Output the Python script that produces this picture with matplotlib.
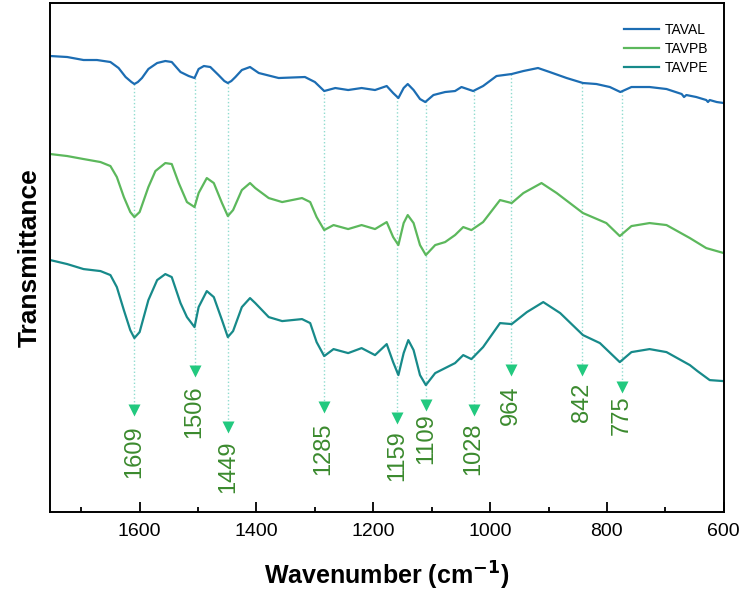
import numpy as np
import matplotlib.pyplot as plt
from matplotlib.ticker import MultipleLocator

plt.rcParams['font.family'] = ['Liberation Sans', 'DejaVu Sans']

# FTIR traces, wavenumber (cm-1) and transmittance (a.u., offset stacked)
wn_al = [1753, 1724, 1696, 1673, 1650, 1636, 1624, 1614, 1609, 1603, 1596, 1585, 1570, 1556,
         1545, 1530, 1516, 1506, 1499, 1490, 1479, 1465, 1455, 1449, 1443, 1436, 1425, 1411,
         1396, 1362, 1317, 1300, 1284, 1265, 1243, 1220, 1197, 1177, 1166, 1157, 1148,
         1141, 1131, 1120, 1111, 1097, 1077, 1060, 1049, 1029, 1012, 989, 963, 943,
         918, 898, 869, 841, 818, 795, 777, 758, 727, 698, 672, 668, 664, 647, 630,
         627, 624, 612, 600]
t_al = [456, 455, 452, 452, 450, 444, 435, 430, 428, 430, 434, 443, 449, 451,
        450, 440, 436, 434, 443, 446, 445, 437, 431, 429, 431, 435, 442, 445,
        439, 434, 435, 430, 421, 424, 422, 424, 422, 426, 419, 414, 424,
        428, 422, 413, 410, 417, 420, 421, 425, 421, 426, 436, 438, 441,
        444, 440, 434, 429, 428, 425, 420, 425, 425, 423, 418, 415, 417, 415, 412,
        410, 412, 410, 409]

wn_pb = [1753, 1724, 1696, 1667, 1650, 1639, 1627, 1616, 1609, 1600, 1585, 1573, 1556,
         1545, 1533, 1519, 1506, 1499, 1485, 1473, 1459, 1449, 1440, 1425, 1411, 1402,
         1379, 1356, 1322, 1308, 1297, 1284, 1268, 1243, 1220, 1197, 1177, 1166, 1157,
         1148, 1141, 1131, 1120, 1110, 1094, 1077, 1060, 1046, 1032, 1012, 983, 963,
         943, 912, 886, 841, 801, 778, 758, 727, 698, 658, 630, 600]
t_pb = [358, 356, 353, 350, 346, 335, 315, 300, 295, 300, 325, 341, 349,
        348, 329, 310, 305, 319, 334, 329, 309, 296, 302, 322, 329, 324,
        314, 310, 314, 310, 295, 282, 287, 283, 287, 283, 290, 275, 267,
        289, 297, 289, 267, 257, 267, 270, 277, 285, 282, 290, 312, 309,
        319, 329, 319, 299, 289, 276, 286, 289, 287, 274, 264, 259]

wn_pe = [1753, 1724, 1696, 1667, 1650, 1639, 1627, 1616, 1609, 1600, 1585, 1570, 1556,
         1545, 1530, 1519, 1506, 1499, 1485, 1473, 1459, 1449, 1440, 1425, 1411, 1402,
         1379, 1356, 1322, 1308, 1297, 1284, 1268, 1243, 1220, 1197, 1177, 1166, 1157,
         1148, 1140, 1131, 1120, 1110, 1094, 1077, 1060, 1046, 1032, 1012, 983, 963,
         937, 909, 880, 841, 812, 778, 758, 727, 698, 658, 645, 624, 600]
t_pe = [252, 248, 243, 241, 237, 225, 202, 182, 174, 180, 212, 232, 238,
        235, 209, 195, 185, 205, 221, 215, 192, 175, 181, 205, 214, 209,
        195, 191, 193, 189, 170, 156, 163, 159, 164, 157, 168, 150, 137,
        159, 172, 162, 137, 127, 139, 144, 149, 157, 153, 165, 189, 188,
        200, 210, 199, 177, 169, 150, 160, 163, 160, 147, 141, 132, 131]

names = ['TAVAL', 'TAVPB', 'TAVPE']
colors = ['#1c6db3', '#5cb85c', '#178a8a']

peaks = [1609, 1506, 1449, 1285, 1159, 1109, 1028, 964, 842, 775]
# arrow-head and label-top heights (same units as the traces)
arrow_y = [102, 141, 85, 105, 94, 107, 102, 142, 142, 125]
label_y = [87, 127, 72, 90, 82, 99, 90, 127, 129, 117]

fig = plt.figure(figsize=(7.5, 5.99), dpi=100)
ax = fig.add_axes([0.067, 0.145, 0.898, 0.85])

for wn, t, name, c in zip([wn_al, wn_pb, wn_pe], [t_al, t_pb, t_pe], names, colors):
    ax.plot(wn, t, color=c, lw=1.6, label=name, solid_joinstyle='round')

for p, ay, ly in zip(peaks, arrow_y, label_y):
    top = np.interp(p, wn_al[::-1], t_al[::-1])
    ax.plot([p, p], [top, ay + 5], ls=':', color='#8fdccf', lw=1, zorder=0)
    ax.plot(p, ay, marker='v', ms=8, color='#22c97f', mec='none')
    ax.text(p, ly, str(p), rotation=90, ha='center', va='top',
            fontsize=17, color='#3b8a2e')

ax.set_xlim(1753, 600)
ax.set_ylim(0, 509)
ax.xaxis.set_major_locator(MultipleLocator(200))
ax.xaxis.set_minor_locator(MultipleLocator(100))
ax.tick_params(axis='x', which='major', direction='in', length=7, width=1.3,
               labelsize=14, top=False, pad=8)
ax.tick_params(axis='x', which='minor', direction='in', length=3.5, width=1.3, top=False)
ax.set_yticks([])
for s in ax.spines.values():
    s.set_linewidth(1.4)

ax.set_xlabel('Wavenumber (cm$^{\\mathbf{-1}}$)', fontsize=18, fontweight='bold', labelpad=14)
ax.set_ylabel('Transmittance', fontsize=19, fontweight='bold', labelpad=6)

ax.legend(loc='upper right', bbox_to_anchor=(0.995, 0.985), frameon=False, fontsize=10,
          handlelength=2.5, labelspacing=0.35, handletextpad=0.4)

fig.savefig('out.png', dpi=100)
